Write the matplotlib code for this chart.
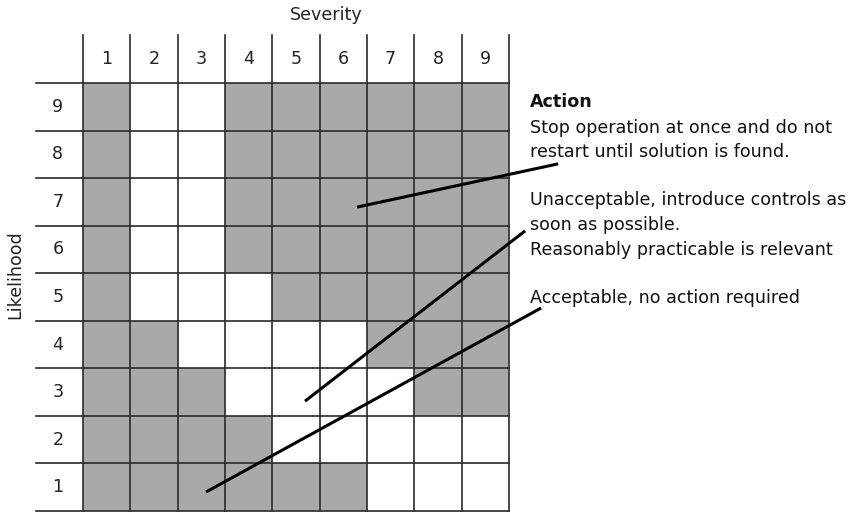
import matplotlib
matplotlib.use("Agg")
import matplotlib.pyplot as plt
from matplotlib.patches import Rectangle

plt.rcParams['font.family'] = ['DejaVu Sans']

severity = [1, 2, 3, 4, 5, 6, 7, 8, 9]
likelihood = [9, 8, 7, 6, 5, 4, 3, 2, 1]
# 1 = shaded (grey), 0 = white; rows listed from likelihood 9 down to 1
shaded = [
    [1, 0, 0, 1, 1, 1, 1, 1, 1],
    [1, 0, 0, 1, 1, 1, 1, 1, 1],
    [1, 0, 0, 1, 1, 1, 1, 1, 1],
    [1, 0, 0, 1, 1, 1, 1, 1, 1],
    [1, 0, 0, 0, 1, 1, 1, 1, 1],
    [1, 1, 0, 0, 0, 0, 1, 1, 1],
    [1, 1, 1, 0, 0, 0, 0, 1, 1],
    [1, 1, 1, 1, 0, 0, 0, 0, 0],
    [1, 1, 1, 1, 1, 1, 0, 0, 0],
]
# leader lines (start in grid, end near text), in grid units
leaders = [
    ((5.79, 6.39), (10.04, 7.30)),
    ((4.69, 2.31), (9.34, 5.89)),
    ((2.60, 0.40), (9.68, 4.27)),
]
texts = [
    ("Action", 8.49, 'bold'),
    ("Stop operation at once and do not", 7.95, 'normal'),
    ("restart until solution is found.", 7.45, 'normal'),
    ("Unacceptable, introduce controls as", 6.44, 'normal'),
    ("soon as possible.", 5.91, 'normal'),
    ("Reasonably practicable is relevant", 5.39, 'normal'),
    ("Acceptable, no action required", 4.38, 'normal'),
]

W, H = 859, 513
fig = plt.figure(figsize=(W / 100, H / 100), dpi=100)
x0, x1, y0, y1 = 83, 509, 83, 511
ax = fig.add_axes([x0 / W, (H - y1) / H, (x1 - x0) / W, (y1 - y0) / H])
ax.set_xlim(0, 9)
ax.set_ylim(0, 9)
ax.axis('off')

grey = '#a9a9a9'
lc = '#2a2a2a'
lw = 1.2
fs = 12.6

for r, lik in enumerate(likelihood):
    y = lik - 1
    for c, sev in enumerate(severity):
        if shaded[r][c]:
            ax.add_patch(Rectangle((sev - 1, y), 1, 1, facecolor=grey,
                                   edgecolor='none', zorder=1))

# horizontal lines (extend into label column)
for k in range(0, 10):
    ax.plot([-1, 9], [k, k], color=lc, lw=lw, clip_on=False, zorder=2)
# vertical lines (extend into header row)
for k in range(0, 10):
    ax.plot([k, k], [0, 10], color=lc, lw=lw, clip_on=False, zorder=2)

for sev in severity:
    ax.text(sev - 0.5, 9.5, str(sev), ha='center', va='center', fontsize=fs,
            color='#222222', clip_on=False)
for lik in likelihood:
    ax.text(-0.53, lik - 0.5, str(lik), ha='center', va='center', fontsize=fs,
            color='#222222', clip_on=False)

ax.text(5.13, 10.43, "Severity", ha='center', va='center', fontsize=fs,
        color='#222222', clip_on=False)
ax.text(-1.43, 4.97, "Likelihood", ha='center', va='center', rotation=90,
        fontsize=fs, color='#222222', clip_on=False)

for (p, q) in leaders:
    ax.plot([p[0], q[0]], [p[1], q[1]], color='black', lw=2.2,
            clip_on=False, zorder=3, solid_capstyle='butt')

for s, yy, wt in texts:
    ax.text(9.44, yy, s, ha='left', va='baseline', fontsize=fs,
            fontweight=wt, color='#111111', clip_on=False)

fig.savefig('out.png', dpi=100)
